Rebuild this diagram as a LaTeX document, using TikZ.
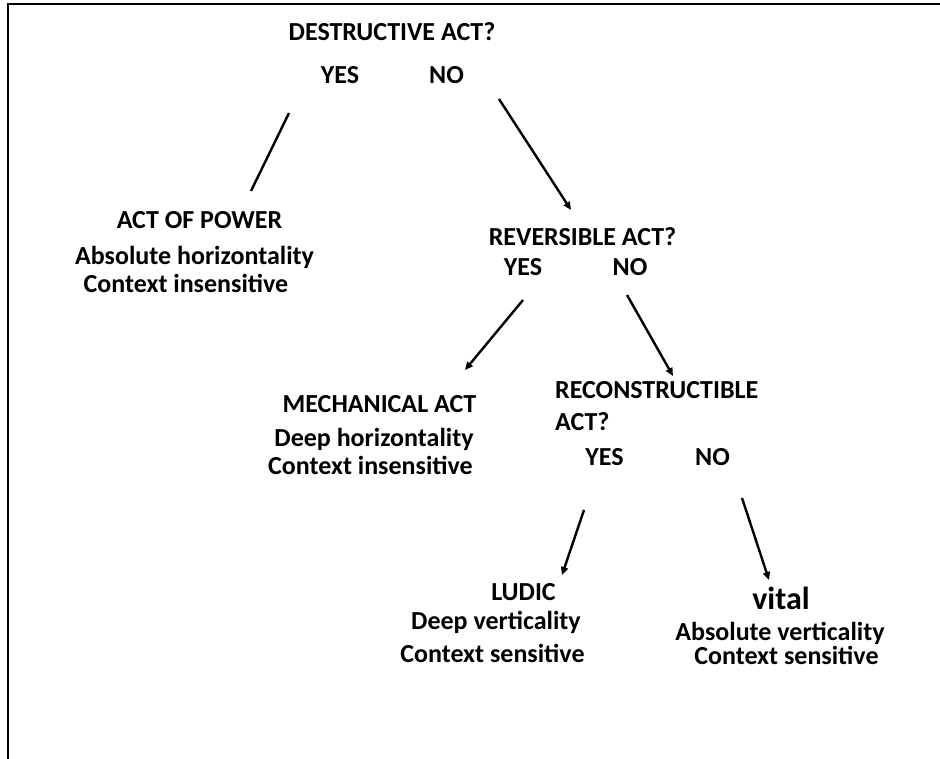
\documentclass[tikz,border=0pt]{standalone}
\usepackage{fontspec}
\setmainfont{Carlito}
\usetikzlibrary{arrows.meta}
\tikzset{
  lbl/.style={inner sep=0pt,anchor=base,font=\fontsize{26}{31}\selectfont\bfseries},
  conn/.style={line width=2.4pt},
  arr/.style={conn,-{Triangle[length=8pt,width=7pt]}}
}
\begin{document}
\begin{tikzpicture}[x=1pt,y=-1pt]
      \useasboundingbox (0,0) rectangle (940,759);
      \draw[line width=1.6pt] (8,759) -- (8,4) -- (940,4);
      \node[lbl] (destr) at (392,40.7) {DESTRUCTIVE ACT?};
      \node[lbl] (destryes) at (340,84) {YES};
      \node[lbl] (destrno) at (446.5,84) {NO};
      \node[lbl] (power) at (199.5,229) {ACT OF POWER};
      \node[lbl] (powera) at (194.5,265) {Absolute horizontality};
      \node[lbl] (powerb) at (186,293) {Context insensitive};
      \node[lbl] (rev) at (582.5,246) {REVERSIBLE ACT?};
      \node[lbl] (revyes) at (523,276) {YES};
      \node[lbl] (revno) at (630,276) {NO};
      \node[lbl] (mech) at (379.5,412) {MECHANICAL ACT};
      \node[lbl] (mecha) at (374,446) {Deep horizontality};
      \node[lbl] (mechb) at (370.5,474) {Context insensitive};
      \node[lbl,anchor=base west] (recon) at (555,398) {RECONSTRUCTIBLE};
      \node[lbl,anchor=base west] (recona) at (555,430) {ACT?};
      \node[lbl] (reconyes) at (604.5,465) {YES};
      \node[lbl] (reconno) at (712.5,465) {NO};
      \node[lbl] (ludic) at (523.5,600) {LUDIC};
      \node[lbl] (ludica) at (496,629) {Deep verticality};
      \node[lbl] (ludicb) at (492.5,662) {Context sensitive};
      \node[lbl,font=\fontsize{32}{38}\selectfont\bfseries] (vital) at (781,609) {vital};
      \node[lbl] (vitala) at (780,640) {Absolute verticality};
      \node[lbl] (vitalb) at (786.5,664) {Context sensitive};
      \coordinate (c1) at (289,113);
      \coordinate (c2) at (251,191);
      \coordinate (c3) at (499,99);
      \coordinate (c4) at (571,210);
      \coordinate (c5) at (523,300);
      \coordinate (c6) at (465,370);
      \coordinate (c7) at (627,295);
      \coordinate (c8) at (673,376);
      \coordinate (c9) at (584,510);
      \coordinate (c10) at (562,575);
      \coordinate (c11) at (742,498);
      \coordinate (c12) at (769,580);
      \draw[conn] (c1) -- (c2);
      \draw[arr] (c3) -- (c4);
      \draw[arr] (c5) -- (c6);
      \draw[arr] (c7) -- (c8);
      \draw[arr] (c9) -- (c10);
      \draw[arr] (c11) -- (c12);
\end{tikzpicture}
\end{document}
